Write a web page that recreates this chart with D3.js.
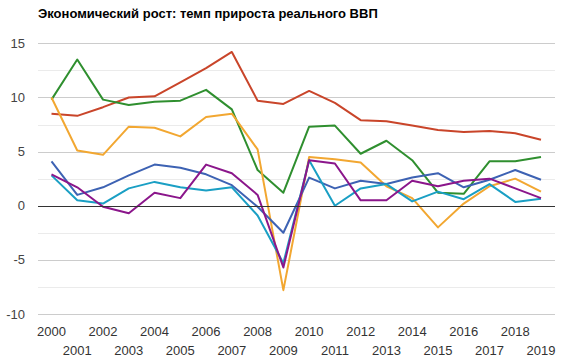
<!DOCTYPE html>
<html>
<head>
<meta charset="utf-8">
<script src="https://cdnjs.cloudflare.com/ajax/libs/d3/7.8.5/d3.min.js"></script>
<style>
  body { margin: 0; background: #fff; }
  svg { font-family: "Liberation Sans", Arial, sans-serif; }
</style>
</head>
<body>
<div id="chart"></div>
<script>
// Chart data
var years = d3.range(2000, 2020);
var china = [8.5, 8.3, 9.1, 10.0, 10.1, 11.4, 12.7, 14.2, 9.7, 9.4, 10.6, 9.5, 7.9, 7.8, 7.4, 7.0, 6.8, 6.9, 6.7, 6.1];
var kazakhstan = [9.8, 13.5, 9.8, 9.3, 9.6, 9.7, 10.7, 8.9, 3.3, 1.2, 7.3, 7.4, 4.8, 6.0, 4.2, 1.2, 1.1, 4.1, 4.1, 4.5];
var russia = [10.0, 5.1, 4.7, 7.3, 7.2, 6.4, 8.2, 8.5, 5.2, -7.8, 4.5, 4.3, 4.0, 1.8, 0.7, -2.0, 0.2, 1.8, 2.5, 1.3];
var usa = [4.1, 1.0, 1.7, 2.8, 3.8, 3.5, 2.9, 1.9, -0.1, -2.5, 2.6, 1.6, 2.3, 2.0, 2.6, 3.0, 1.7, 2.4, 3.3, 2.4];
var germany = [2.9, 1.7, -0.1, -0.7, 1.2, 0.7, 3.8, 3.0, 1.0, -5.7, 4.2, 3.9, 0.5, 0.5, 2.3, 1.8, 2.3, 2.5, 1.6, 0.7];
var japan = [2.8, 0.5, 0.2, 1.6, 2.2, 1.7, 1.4, 1.7, -0.9, -5.3, 4.2, 0.0, 1.6, 2.0, 0.4, 1.3, 0.6, 2.0, 0.35, 0.65];
var yTicks = [-10, -5, 0, 5, 10, 15];

var series = [
  {name: "china", values: china, color: "#c9452a"},
  {name: "kazakhstan", values: kazakhstan, color: "#2f8f2f"},
  {name: "russia", values: russia, color: "#f2a731"},
  {name: "usa", values: usa, color: "#3d62b3"},
  {name: "japan", values: japan, color: "#1a9fc4"},
  {name: "germany", values: germany, color: "#8b168b"}
];

var width = 566, height = 361;

var xScale = d3.scaleLinear().domain([2000, 2019]).range([51.5, 541]);
var yScale = d3.scaleLinear().domain([-10, 15]).range([314, 43.3]);

var svg = d3.select("#chart").append("svg")
    .attr("width", width)
    .attr("height", height);

// Title
svg.append("text")
    .attr("x", 38)
    .attr("y", 18)
    .style("font-size", "13px")
    .style("font-weight", "bold")
    .style("fill", "#000")
    .text("Экономический рост: темп прироста реального ВВП");

// Minor gridlines
svg.append("g").selectAll("line")
    .data(d3.range(-7.5, 15, 5))
  .enter().append("line")
    .attr("x1", 38).attr("x2", 555)
    .attr("y1", function(d) { return Math.round(yScale(d)) + 0.5; })
    .attr("y2", function(d) { return Math.round(yScale(d)) + 0.5; })
    .style("stroke", "#ebebeb");

// Major gridlines
svg.append("g").selectAll("line")
    .data(yTicks.filter(function(d) { return d !== 0; }))
  .enter().append("line")
    .attr("x1", 38).attr("x2", 555)
    .attr("y1", function(d) { return Math.round(yScale(d)) + 0.5; })
    .attr("y2", function(d) { return Math.round(yScale(d)) + 0.5; })
    .style("stroke", "#cccccc");

// Y labels
svg.append("g").selectAll("text")
    .data(yTicks)
  .enter().append("text")
    .attr("x", 25)
    .attr("y", function(d) { return yScale(d) + 4.5; })
    .attr("text-anchor", "end")
    .style("font-size", "13px")
    .style("fill", "#444")
    .text(function(d) { return d; });

// X labels, staggered on two rows
svg.append("g").selectAll("text")
    .data(years)
  .enter().append("text")
    .attr("x", function(d) { return xScale(d); })
    .attr("y", function(d) { return d % 2 === 0 ? 336 : 355; })
    .attr("text-anchor", "middle")
    .style("font-size", "13px")
    .style("fill", "#333")
    .text(function(d) { return d; });

// Lines
var line = d3.line()
    .x(function(d, i) { return xScale(years[i]); })
    .y(function(d) { return yScale(d); });

svg.append("g").selectAll("path")
    .data(series)
  .enter().append("path")
    .attr("d", function(s) { return line(s.values); })
    .style("fill", "none")
    .style("stroke", function(s) { return s.color; })
    .style("stroke-width", 2)
    .style("stroke-linejoin", "round");

// Zero line
svg.append("line")
    .attr("x1", 38).attr("x2", 555)
    .attr("y1", Math.round(yScale(0)) + 0.5)
    .attr("y2", Math.round(yScale(0)) + 0.5)
    .style("stroke", "#333");
</script>
</body>
</html>
